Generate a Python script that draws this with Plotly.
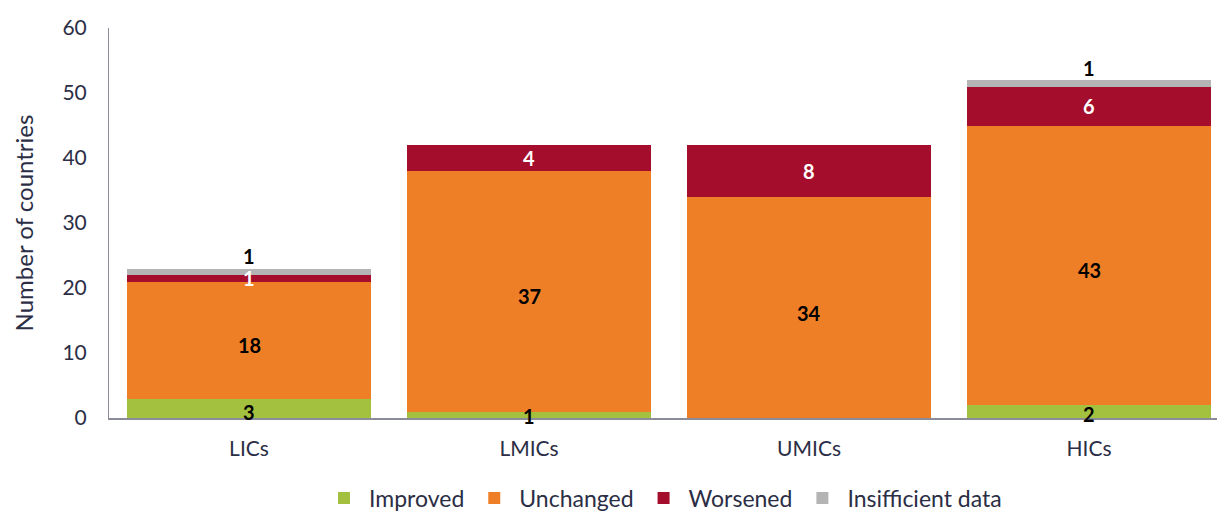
import plotly.graph_objects as go

categories = ["LICs", "LMICs", "UMICs", "HICs"]
improved = [3, 1, 0, 2]
unchanged = [18, 37, 34, 43]
worsened = [1, 4, 8, 6]
insufficient = [1, 0, 0, 1]

series = [
    ("Improved", improved, "#a3c13e"),
    ("Unchanged", unchanged, "#ef7f27"),
    ("Worsened", worsened, "#a50d2d"),
    ("Insifficient data", insufficient, "#b4b4b4"),
]
label_colors = {"Improved": "black", "Unchanged": "black", "Worsened": "white", "Insifficient data": "black"}

fig = go.Figure()
for name, vals, col in series:
    fig.add_trace(go.Bar(x=categories, y=vals, name=name, marker=dict(color=col, line=dict(width=0))))

annotations = []
base = [0] * len(categories)
for name, vals, col in series:
    for i, v in enumerate(vals):
        if v > 0:
            shift = 0
            if name == "Insifficient data":
                ypos = base[i] + v + 1.9
            elif name == "Improved":
                ypos = v * 0.33
            else:
                ypos = base[i] + v / 2
                if name == "Unchanged":
                    shift = -5
            annotations.append(dict(x=categories[i], y=ypos, text="<b>%d</b>" % v, showarrow=False,
                                    yshift=shift,
                                    font=dict(size=20, color=label_colors[name], family="Lato"),
                                    xref="x", yref="y"))
        base[i] += v

fig.update_layout(
    barmode="stack",
    bargap=0.13,
    width=1217, height=511,
    margin=dict(l=109, r=0, t=28, b=93, autoexpand=False),
    plot_bgcolor="white", paper_bgcolor="white",
    font=dict(family="Lato", color="#2b2e45"),
    annotations=annotations,
    showlegend=True,
    legend=dict(orientation="h", x=0.5, xanchor="center", y=-0.205, yanchor="middle",
                font=dict(size=23, color="#2b2e45"), itemwidth=40, traceorder="normal"),
    xaxis=dict(range=[-0.5, 3.457], showline=True, linecolor="#8a8d99", linewidth=1.5,
               ticks="", tickfont=dict(size=21, color="#2b2e45"), showgrid=False, zeroline=False,
               ticklabelstandoff=11),
    yaxis=dict(range=[0, 60], dtick=10, showline=True, linecolor="#8a8d99", linewidth=1,
               ticks="", tickfont=dict(size=21, color="#2b2e45"), showgrid=False, zeroline=False,
               ticklabelstandoff=17,
               title=dict(text="Number of countries", font=dict(size=24, color="#2b2e45"), standoff=22)),
)

fig.write_html("out.html")
